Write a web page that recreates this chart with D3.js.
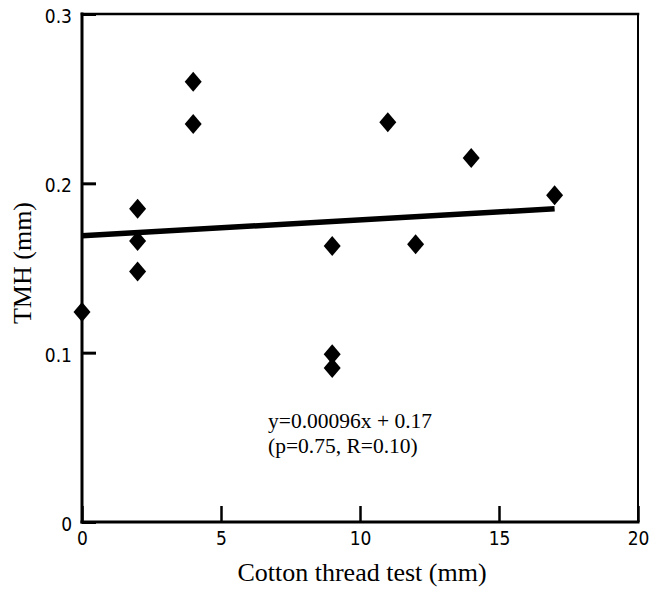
<!DOCTYPE html>
<html>
<head>
<meta charset="utf-8">
<script src="https://cdn.jsdelivr.net/npm/d3@7"></script>
<style>
  body { margin: 0; background: #fff; }
  .tick text { font-family: "Liberation Sans Narrow", "DejaVu Sans Condensed", "Liberation Sans", sans-serif; font-stretch: condensed; font-size: 19px; fill: #000; }
  .title { font-family: "Liberation Serif", "DejaVu Serif", serif; font-size: 26px; fill: #000; }
  .note { font-family: "Liberation Serif", "DejaVu Serif", serif; font-size: 21.5px; fill: #000; }
</style>
</head>
<body>
<svg id="chart" width="661" height="589"></svg>
<script>
// values
var cottonThread = [0, 2, 2, 2, 4, 4, 9, 9, 9, 11, 12, 14, 17];
var tmh = [0.124, 0.185, 0.166, 0.148, 0.260, 0.235, 0.163, 0.099, 0.091, 0.236, 0.164, 0.215, 0.193];
var fitX = [0, 17];
var fitY = [0.169, 0.185];
var xTicks = [0, 5, 10, 15, 20];
var yTicks = [0, 0.1, 0.2, 0.3];
var noteLines = ['y=0.00096x + 0.17', '(p=0.75, R=0.10)'];

(function() {
  var mLeft = 82, mTop = 14, mRight = 638, mBottom = 522;
  var svg = d3.select('#chart');

  var x = d3.scaleLinear().domain([0, 20]).range([mLeft, mRight]);
  var y = d3.scaleLinear().domain([0, 0.3]).range([mBottom, mTop]);

  // axes: ticks point into the plot
  var yAxis = d3.axisLeft(y).tickValues(yTicks).tickSize(-14).tickPadding(10)
    .tickFormat(function(d) { return d === 0 ? '0' : d3.format('.1f')(d); });
  var gy = svg.append('g').attr('transform', 'translate(' + mLeft + ',0)').call(yAxis);
  gy.select('.domain').remove();
  gy.selectAll('.tick line').attr('stroke', '#000').attr('stroke-width', 3);
  gy.selectAll('.tick text').attr('dy', '0.45em');

  var xAxis = d3.axisBottom(x).tickValues(xTicks).tickSize(-16).tickPadding(10)
    .tickFormat(d3.format('d'));
  var gx = svg.append('g').attr('transform', 'translate(0,' + mBottom + ')').call(xAxis);
  gx.select('.domain').remove();
  gx.selectAll('.tick line').attr('stroke', '#000').attr('stroke-width', 2.5);

  // frame
  var frame = svg.append('g').attr('stroke', '#000').attr('stroke-linecap', 'square');
  frame.append('line').attr('x1', mLeft).attr('x2', mLeft).attr('y1', mTop).attr('y2', mBottom).attr('stroke-width', 3);
  frame.append('line').attr('x1', mLeft).attr('x2', mRight).attr('y1', mBottom).attr('y2', mBottom).attr('stroke-width', 3);
  frame.append('line').attr('x1', mLeft).attr('x2', mRight).attr('y1', mTop).attr('y2', mTop).attr('stroke-width', 2.5);
  frame.append('line').attr('x1', mRight).attr('x2', mRight).attr('y1', mTop).attr('y2', mBottom).attr('stroke-width', 2);

  // regression line
  svg.append('path')
    .datum(d3.zip(fitX, fitY))
    .attr('fill', 'none')
    .attr('stroke', '#000')
    .attr('stroke-width', 5.5)
    .attr('d', d3.line().x(function(d) { return x(d[0]); }).y(function(d) { return y(d[1]); }));

  // diamonds
  svg.append('g').selectAll('path.pt')
    .data(d3.zip(cottonThread, tmh))
    .enter().append('path')
    .attr('class', 'pt')
    .attr('fill', '#000')
    .attr('transform', function(d) { return 'translate(' + x(d[0]) + ',' + y(d[1]) + ')'; })
    .attr('d', 'M0,-10L8.5,0L0,10L-8.5,0Z');

  // annotation
  svg.append('g').selectAll('text')
    .data(noteLines)
    .enter().append('text')
    .attr('class', 'note')
    .attr('x', 268)
    .attr('y', function(d, i) { return 428 + i * 25; })
    .text(function(d) { return d; });

  // axis titles
  svg.append('text').attr('class', 'title')
    .attr('x', (mLeft + mRight) / 2 + 2).attr('y', 581)
    .attr('text-anchor', 'middle')
    .text('Cotton thread test (mm)');

  svg.append('text').attr('class', 'title')
    .attr('transform', 'translate(31,263) rotate(-90)')
    .attr('text-anchor', 'middle')
    .attr('fill', '#000')
    .text('TMH (mm)');
})();
</script>
</body>
</html>
